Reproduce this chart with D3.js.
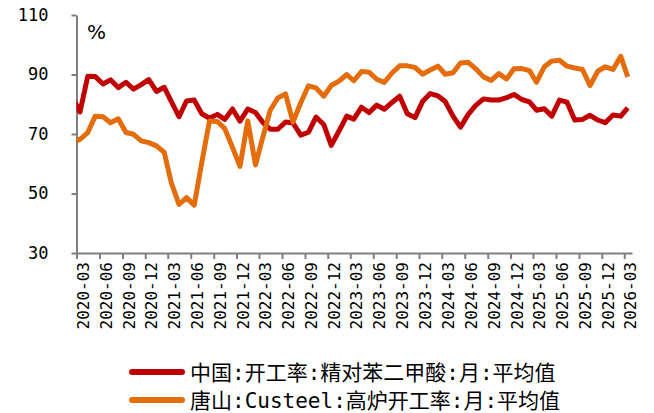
<!DOCTYPE html>
<html>
<head>
<meta charset="utf-8">
<script src="https://cdn.jsdelivr.net/npm/d3@7"></script>
<style>
  body { margin: 0; background: #fff; }
  svg text { font-family: "DejaVu Sans Mono", "Noto Sans CJK SC", monospace; }
</style>
</head>
<body>
<div class="canvas"></div>
<script>
// monthly values, 2020-02 .. 2026-03 (first point is cut by the axis)
const months = [
  "2020-02","2020-03","2020-04","2020-05","2020-06","2020-07","2020-08","2020-09","2020-10","2020-11","2020-12",
  "2021-01","2021-02","2021-03","2021-04","2021-05","2021-06","2021-07","2021-08","2021-09","2021-10","2021-11","2021-12",
  "2022-01","2022-02","2022-03","2022-04","2022-05","2022-06","2022-07","2022-08","2022-09","2022-10","2022-11","2022-12",
  "2023-01","2023-02","2023-03","2023-04","2023-05","2023-06","2023-07","2023-08","2023-09","2023-10","2023-11","2023-12",
  "2024-01","2024-02","2024-03","2024-04","2024-05","2024-06","2024-07","2024-08","2024-09","2024-10","2024-11","2024-12",
  "2025-01","2025-02","2025-03","2025-04","2025-05","2025-06","2025-07","2025-08","2025-09","2025-10","2025-11","2025-12",
  "2026-01","2026-02","2026-03"
];

const ptaRate = [
  82, 77.4, 89.4, 89.3, 86.8, 88.2, 85.6, 87.4, 85.1, 86.6, 88.3,
  84.3, 85.7, 81, 75.8, 81.1, 81.4, 76.8, 75.3, 76.6, 74.9, 78.4, 74.3,
  78.4, 77.2, 74, 71.6, 71.6, 74, 73.7, 69.6, 70.6, 75.7, 73.2, 66.2,
  71, 76, 75, 79, 77.2, 79.7, 78.3, 80.6, 82.7, 76.8, 75.5, 80.9,
  83.6, 82.8, 80.9, 76, 72.3, 76.6, 79.6, 81.8, 81.4, 81.4, 82.2, 83.3,
  81.6, 80.8, 78, 78.5, 76, 81.4, 80.7, 74.7, 74.9, 76.3, 74.7, 73.8,
  76.4, 76, 78.8
];

const furnaceRate = [
  67, 68.2, 70.5, 76, 75.8, 73.8, 75.1, 70.5, 69.9, 67.7, 67.1,
  66, 63.8, 53.7, 46.3, 48.6, 46.1, 60.4, 74.4, 74.2, 71.8, 65.5, 59.1,
  74.4, 59.6, 68.5, 78, 82.1, 83.5, 74, 80.5, 86.2, 85.5, 82.7, 86.3,
  87.8, 90, 87.9, 91, 90.8, 88.4, 87.3, 90.5, 92.9, 92.9, 92.4, 90.1,
  91.5, 92.8, 90.1, 90.6, 93.9, 94.1, 91.9, 89.2, 88, 90.3, 88.5, 91.9,
  92, 91.3, 87.4, 92.6, 94.5, 94.8, 92.8, 92.2, 91.7, 86.3, 91.1, 92.6,
  91.7, 96.1, 89.2
];

const tickLabels = [
  "2020-03","2020-06","2020-09","2020-12","2021-03","2021-06","2021-09","2021-12",
  "2022-03","2022-06","2022-09","2022-12","2023-03","2023-06","2023-09","2023-12",
  "2024-03","2024-06","2024-09","2024-12","2025-03","2025-06","2025-09","2025-12","2026-03"
];
const yTicks = [30, 50, 70, 90, 110];

const seriesNames = ["中国:开工率:精对苯二甲酸:月:平均值", "唐山:Custeel:高炉开工率:月:平均值"];
const seriesColors = ["#C00000", "#E46C0A"];

const dims = { width: 654, height: 413 };
const plot = { left: 76.5, right: 632, top: 15, bottom: 253 };

const parseMonth = d3.timeParse("%Y-%m");
// monthly averages sit in the middle of their month
const midMonth = (s) => d3.timeDay.offset(parseMonth(s), 14);

const svg = d3
  .select(".canvas")
  .append("svg")
  .attr("width", dims.width)
  .attr("height", dims.height);

const x = d3
  .scaleTime()
  .domain([parseMonth("2020-03"), parseMonth("2026-04")])
  .range([plot.left, plot.right]);

const y = d3.scaleLinear().domain([30, 110]).range([plot.bottom, plot.top]);

svg
  .append("clipPath")
  .attr("id", "plot-clip")
  .append("rect")
  .attr("x", plot.left)
  .attr("y", 0)
  .attr("width", plot.right - plot.left + 4)
  .attr("height", plot.bottom + 5);

// Y axis
const yAxis = svg
  .append("g")
  .attr("transform", `translate(${plot.left}, 0)`)
  .call(d3.axisLeft(y).tickValues(yTicks).tickSize(5).tickPadding(23).tickSizeOuter(0));

// X axis
const xAxis = svg
  .append("g")
  .attr("transform", `translate(0, ${plot.bottom})`)
  .call(
    d3
      .axisBottom(x)
      .tickValues(tickLabels.map(parseMonth))
      .tickFormat(d3.timeFormat("%Y-%m"))
      .tickSize(6)
      .tickSizeOuter(0)
  );

svg.selectAll(".domain, .tick line")
  .attr("stroke", "#7f7f7f")
  .attr("stroke-width", 2);

yAxis.selectAll("text")
  .attr("font-size", 17)
  .attr("fill", "#000");

xAxis.selectAll("text")
  .attr("font-size", 16)
  .attr("fill", "#000")
  .attr("text-anchor", "end")
  .attr("dy", null)
  .attr("y", 0)
  .attr("transform", "translate(11.5, 9) rotate(-90)");

// unit label
svg
  .append("text")
  .attr("x", 87)
  .attr("y", 39)
  .attr("font-size", 20)
  .style("font-family", "'DejaVu Sans', sans-serif")
  .text("%");

// Lines
const series = [ptaRate, furnaceRate];
const line = d3
  .line()
  .x((d, i) => x(midMonth(months[i])))
  .y((d) => y(d));

const graph = svg.append("g").attr("clip-path", "url(#plot-clip)");

graph
  .selectAll("path")
  .data(series)
  .enter()
  .append("path")
  .attr("d", line)
  .attr("fill", "none")
  .attr("stroke", (d, i) => seriesColors[i])
  .attr("stroke-width", 5)
  .attr("stroke-linejoin", "round");

// Legend
const legend = svg
  .selectAll(".legend")
  .data(seriesNames)
  .enter()
  .append("g")
  .attr("class", "legend")
  .attr("transform", (d, i) => `translate(132, ${372 + i * 28})`);

legend
  .append("line")
  .attr("x1", 0)
  .attr("x2", 50)
  .attr("stroke", (d, i) => seriesColors[i])
  .attr("stroke-width", 6)
  .attr("stroke-linecap", "round");

legend
  .append("text")
  .attr("x", 58)
  .attr("y", 7.5)
  .attr("font-size", 21)
  .text((d) => d);
</script>
</body>
</html>
